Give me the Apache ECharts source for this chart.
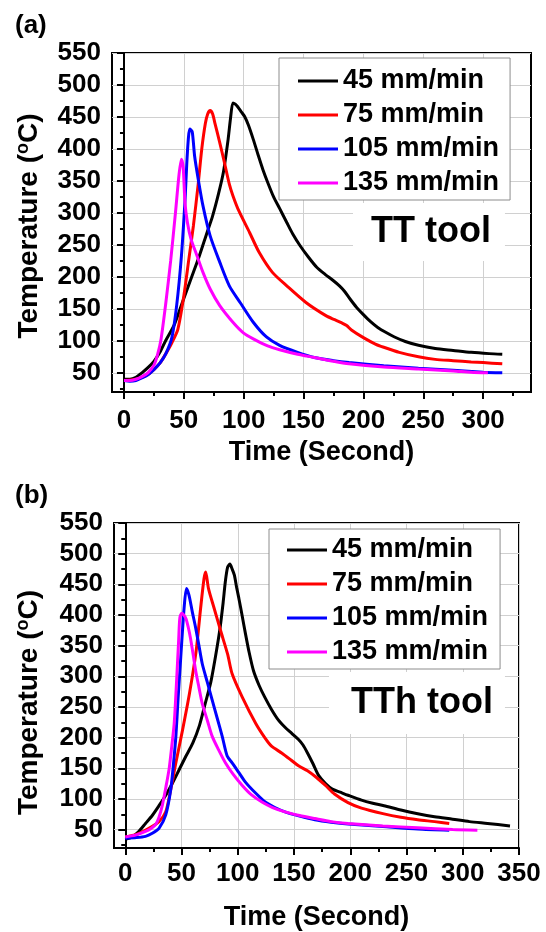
<!DOCTYPE html>
<html>
<head>
<meta charset="utf-8">
<script src="https://cdn.jsdelivr.net/npm/echarts@6/dist/echarts.min.js"></script>
<style>
html, body { margin: 0; padding: 0; background: #fff; }
#chart { width: 546px; height: 932px; }
</style>
</head>
<body>
<div id="chart"></div>
<script>
var seriesNames = ['45 mm/min', '75 mm/min', '105 mm/min', '135 mm/min'];

// (a) TT tool
var tt45Time = [0, 5, 10, 15, 20, 25, 30, 35, 42, 49, 56, 63, 69, 74, 79, 83, 87, 89, 91, 93, 95, 98, 101, 104, 108, 112, 116, 120, 125, 130, 136, 141, 147, 154, 161, 168, 175, 180, 184, 189, 194, 200, 206, 212, 219, 226, 235, 246, 260, 275, 290, 305, 316];
var tt45Temp = [40, 40, 43, 50, 58, 68, 82, 101, 125, 161, 197, 233, 267, 295, 330, 363, 415, 448, 472, 470, 466, 458, 450, 437, 415, 391, 368, 348, 325, 307, 285, 267, 249, 231, 215, 204, 194, 186, 178, 165, 153, 141, 130, 121, 113, 106, 99, 93, 88, 85, 82, 80, 79];
var tt75Time = [0, 10, 20, 25, 30, 35, 40, 45, 50, 54, 58, 62, 65, 68, 70, 72, 74, 76, 80, 84, 88, 91, 96, 105, 113, 124, 136, 152, 169, 176, 182, 186, 190, 200, 210, 217, 230, 246, 260, 275, 290, 300, 316];
var tt75Temp = [38, 40, 47, 55, 65, 80, 97, 118, 170, 225, 280, 345, 400, 440, 455, 460, 455, 440, 410, 378, 345, 327, 303, 269, 238, 207, 186, 160, 139, 133, 128, 124, 117, 105, 95, 90, 82, 75, 71, 69, 67, 66, 64];
var tt105Time = [0, 5, 10, 15, 20, 25, 30, 35, 40, 44, 48, 51, 53, 55, 57, 59, 62, 66, 72, 80, 88, 97, 108, 119, 130, 145, 159, 175, 188, 217, 246, 275, 300, 316];
var tt105Temp = [38, 37, 38, 42, 47, 55, 65, 80, 105, 155, 233, 320, 395, 431, 427, 389, 353, 311, 264, 223, 186, 160, 129, 106, 93, 82, 74, 69, 66, 61, 57, 54, 51, 50];
var tt135Time = [0, 5, 10, 15, 20, 25, 28, 31, 35, 39, 43, 46, 48, 49.5, 51, 53, 56, 61, 66, 72, 80, 91, 100, 108, 120, 130, 145, 159, 175, 188, 217, 246, 275, 290, 304];
var tt135Temp = [38, 38, 40, 44, 50, 62, 78, 103, 160, 225, 300, 360, 384, 370, 315, 285, 259, 233, 207, 181, 155, 129, 112, 103, 92, 86, 79, 74, 68, 64, 59, 56, 53, 51, 50];

// (b) TTh tool
var th45Time = [0, 6, 12, 18, 24, 30, 36, 42, 48, 54, 60, 66, 71, 76, 80, 84, 87, 89, 91, 93, 95, 97, 99, 101, 104, 107, 110, 114, 119, 124, 130, 136, 142, 148, 154, 158, 162, 167, 172, 178, 184, 191, 198, 210, 220, 230, 245, 260, 275, 291, 306, 322, 342];
var th45Temp = [34, 38, 47, 60, 73, 89, 106, 126, 148, 170, 191, 220, 255, 290, 330, 375, 420, 455, 478, 483, 475, 465, 445, 427, 398, 368, 340, 309, 285, 266, 246, 229, 217, 207, 197, 188, 175, 157, 138, 125, 116, 111, 106, 98, 93, 89, 82, 76, 71, 67, 63, 60, 56];
var th75Time = [0, 10, 21, 30, 36, 40.5, 45, 51, 57, 63, 67, 70, 71.5, 74, 79, 85, 91, 95, 104, 116, 124, 130, 139, 147, 154, 162, 170, 178, 186, 198, 210, 229, 245, 260, 275, 288];
var th75Temp = [38, 42, 52, 63, 79, 116, 159, 213, 271, 341, 411, 459, 470, 443, 411, 373, 336, 304, 266, 223, 200, 186, 175, 164, 154, 146, 135, 122, 108, 94, 85, 76, 70, 66, 63, 60];
var th105Time = [0, 10, 18, 24, 30, 36, 40.5, 43, 45, 47, 49.3, 52.3, 54.4, 56.7, 59.6, 62.6, 65.5, 68.5, 73, 77.3, 81.7, 86.2, 90.6, 95, 101, 107, 115.6, 124.4, 133, 142, 155, 168.6, 183, 198, 229, 260, 288];
var th105Temp = [36, 37, 39, 44, 52, 74, 116, 160, 202, 265, 330, 411, 443, 432, 405, 379, 350, 320, 290, 261, 232, 202, 170, 159, 143, 127, 110, 95, 86, 79, 72, 66, 62, 59, 55, 51, 49];
var th135Time = [0, 9, 18, 23, 27, 30, 33, 36, 39, 41.3, 43.5, 45, 46.4, 47.5, 48.5, 50.2, 52, 54, 56, 58, 60.4, 62.6, 65.5, 68.5, 73, 77.3, 83, 89, 96, 104, 112, 121.5, 131, 142, 155, 168.6, 183, 198, 229, 260, 291, 313];
var th135Temp = [38, 41, 47, 52, 58, 70, 90, 118, 149, 185, 223, 270, 320, 360, 395, 403, 400, 394, 380, 362, 335, 309, 282, 255, 228, 202, 180, 159, 140, 122, 107, 95, 86, 79, 73, 68, 63, 60, 56, 53, 50, 49];

// axis ticks
var yTicks = [50, 100, 150, 200, 250, 300, 350, 400, 450, 500, 550];
var yMinorTicks = [25, 75, 125, 175, 225, 275, 325, 375, 425, 475, 525];
var xTicksA = [0, 50, 100, 150, 200, 250, 300];
var xTicksB = [0, 50, 100, 150, 200, 250, 300, 350];
var xMinorTicks = [25, 75, 125, 175, 225, 275, 325];

var font = 'Liberation Sans, Arial, sans-serif';
var colors = ['#000000', '#ff0000', '#0000ff', '#ff00ff'];

function zip(xs, ys) {
	var out = [];
	for (var i = 0; i < xs.length; i++) out.push([xs[i], ys[i]]);
	return out;
}

function mainX(grid, min, max, ticks, margin, gap) {
	return {
		type: 'value', gridIndex: grid, min: min, max: max, position: 'bottom',
		name: 'Time (Second)', nameLocation: 'middle', nameGap: gap,
		nameTextStyle: { fontSize: 27, fontWeight: 'bold', fontFamily: font, color: '#000' },
		axisLine: { lineStyle: { color: '#000', width: 2 } },
		axisTick: { customValues: ticks, length: 7, lineStyle: { color: '#000', width: 2 } },
		axisLabel: { customValues: ticks, margin: margin, fontSize: 26, fontWeight: 'bold', fontFamily: font, color: '#000' },
		splitLine: { show: true, lineStyle: { color: '#d0d0d0', width: 1 } }
	};
}
function minorX(grid, min, max) {
	return {
		type: 'value', gridIndex: grid, min: min, max: max, position: 'bottom',
		axisLine: { show: false },
		axisTick: { customValues: xMinorTicks, length: 4, lineStyle: { color: '#000', width: 2 } },
		axisLabel: { show: false }, splitLine: { show: false }
	};
}
function mainY(grid, gap, pad) {
	return {
		type: 'value', gridIndex: grid, min: 20, max: 550, position: 'left',
		name: '{t|Temperature (}{s|o}{t|C)}', nameLocation: 'middle', nameGap: gap, nameRotate: 90,
		nameTextStyle: {
			padding: [0, pad, 0, 0],
			rich: {
				t: { fontSize: 28, fontWeight: 'bold', fontFamily: font, color: '#000', lineHeight: 30 },
				s: { fontSize: 18, fontWeight: 'bold', fontFamily: font, color: '#000', verticalAlign: 'top', lineHeight: 30 }
			}
		},
		axisLine: { lineStyle: { color: '#000', width: 2 } },
		axisTick: { customValues: yTicks, length: 7, lineStyle: { color: '#000', width: 2 } },
		axisLabel: { customValues: yTicks, margin: 11, fontSize: 26, fontWeight: 'bold', fontFamily: font, color: '#000' },
		splitLine: { show: true, lineStyle: { color: '#d0d0d0', width: 1 } }
	};
}
function minorY(grid) {
	return {
		type: 'value', gridIndex: grid, min: 20, max: 550, position: 'left',
		axisLine: { show: false },
		axisTick: { customValues: yMinorTicks, length: 4, lineStyle: { color: '#000', width: 2 } },
		axisLabel: { show: false }, splitLine: { show: false }
	};
}
function legendAt(left, top, pad) {
	return {
		data: seriesNames, orient: 'vertical', left: left, top: top,
		icon: 'rect', itemWidth: 40, itemHeight: 3, itemGap: 4, padding: pad,
		backgroundColor: '#fff', borderColor: '#8c8c8c', borderWidth: 1,
		selectedMode: false,
		textStyle: { fontSize: 27, fontWeight: 'bold', fontFamily: font, color: '#000', lineHeight: 30 }
	};
}
function line(name, idx, axis, data) {
	return {
		name: name, type: 'line', xAxisIndex: axis, yAxisIndex: axis,
		data: data, symbol: 'none', smooth: 0.25, color: colors[idx],
		lineStyle: { width: 3, color: colors[idx] }
	};
}

var chart = echarts.init(document.getElementById('chart'));
var option = {
	animation: false,
	backgroundColor: '#fff',
	title: [
		{ text: '(a)', left: 15, top: 11, padding: 0, textStyle: { fontSize: 26, fontWeight: 'bold', fontFamily: font, color: '#000', lineHeight: 30 } },
		{ text: '(b)', left: 15, top: 481, padding: 0, textStyle: { fontSize: 26, fontWeight: 'bold', fontFamily: font, color: '#000', lineHeight: 30 } },
		{ text: 'TT tool', left: 353, top: 203, padding: [11, 14, 11, 18], backgroundColor: '#fff', textStyle: { fontSize: 36, fontWeight: 'bold', fontFamily: font, color: '#000', lineHeight: 36 } },
		{ text: 'TTh tool', left: 329, top: 672, padding: [13, 12, 13, 22], backgroundColor: '#fff', textStyle: { fontSize: 36, fontWeight: 'bold', fontFamily: font, color: '#000', lineHeight: 36 } }
	],
	legend: [legendAt(279, 58, [8, 11, 2, 19]), legendAt(269, 529, [6, 12, 2, 18])],
	grid: [
		{ left: 112, top: 53, width: 419, height: 339, show: true, borderColor: '#000', borderWidth: 2 },
		{ left: 114, top: 523, width: 405, height: 330, show: true, borderColor: '#000', borderWidth: 2 }
	],
	xAxis: [mainX(0, -10, 340, xTicksA, 16, 47), minorX(0, -10, 340), mainX(1, -10, 350, xTicksB, 13, 56), minorX(1, -10, 350)],
	yAxis: [mainY(0, 68, 7), minorY(0), mainY(1, 70, 34), minorY(1)],
	series: [
		line(seriesNames[0], 0, 0, zip(tt45Time, tt45Temp)),
		line(seriesNames[1], 1, 0, zip(tt75Time, tt75Temp)),
		line(seriesNames[2], 2, 0, zip(tt105Time, tt105Temp)),
		line(seriesNames[3], 3, 0, zip(tt135Time, tt135Temp)),
		line(seriesNames[0], 0, 2, zip(th45Time, th45Temp)),
		line(seriesNames[1], 1, 2, zip(th75Time, th75Temp)),
		line(seriesNames[2], 2, 2, zip(th105Time, th105Temp)),
		line(seriesNames[3], 3, 2, zip(th135Time, th135Temp))
	]
};
chart.setOption(option);
</script>
</body>
</html>
